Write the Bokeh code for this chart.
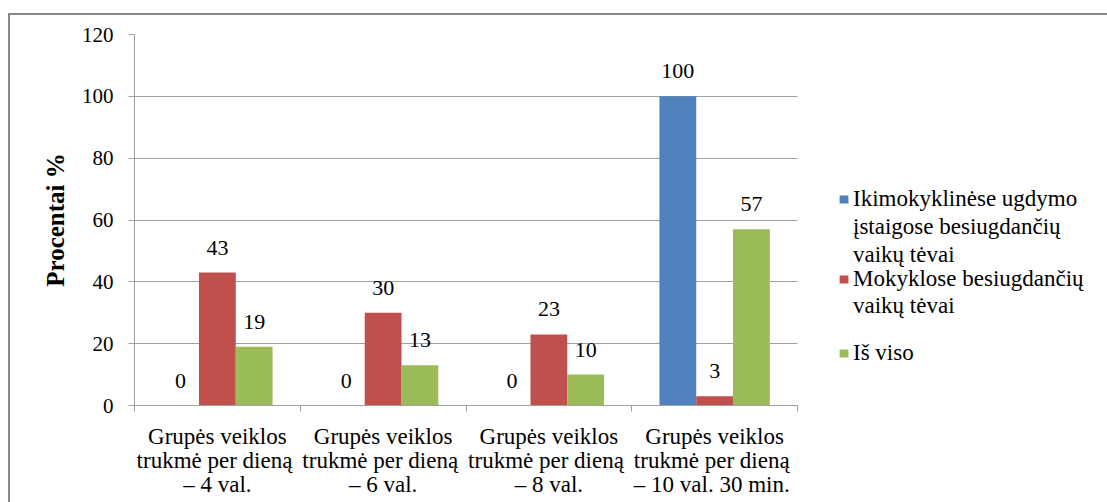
from bokeh.plotting import figure
from bokeh.models import (ColumnDataSource, FixedTicker, Legend, LegendItem,
                          LabelSet, Range1d)
from bokeh.transform import dodge
from bokeh.embed import file_html
from bokeh.resources import INLINE

# ---- data ----
categories = [
    "Grupės veiklos\ntrukmė  per dieną\n– 4 val.",
    "Grupės veiklos\ntrukmė  per dieną\n– 6 val.",
    "Grupės veiklos\ntrukmė  per dieną\n– 8 val.",
    "Grupės veiklos\ntrukmė  per dieną\n– 10 val.  30 min.",
]
series_names = [
    "Ikimokyklinėse ugdymo\nįstaigose besiugdančių\nvaikų tėvai",
    "Mokyklose besiugdančių\nvaikų tėvai",
    "Iš viso",
]
ikimokyklines = [0, 0, 0, 100]
mokyklose = [43, 30, 23, 3]
is_viso = [19, 13, 10, 57]
y_ticks = [0, 20, 40, 60, 80, 100, 120]
y_label = "Procentai %"

colors = ["#4F81BD", "#C0504D", "#9BBB59"]
FONT = "Liberation Serif"

n = len(categories)
centers = [i + 0.5 for i in range(n)]
bounds = [i for i in range(n + 1)]

src = ColumnDataSource(dict(
    x=centers,
    s0=ikimokyklines, s1=mokyklose, s2=is_viso,
    t0=[str(v) for v in ikimokyklines],
    t1=[str(v) for v in mokyklose],
    t2=[str(v) for v in is_viso],
))

# host placed at (8, 13) with a 2px border -> content origin at (10, 15)
OX, OY = 10, 15
W, H = 1099, 489
FL, FT, FR, FB = 134 - OX, 34 - OY, 797 - OX, 405 - OY
# frame extends to the right edge so the legend sits inside it;
# the categories occupy [0, n], which maps onto FL..FR
x_end = n * (W - FL) / (FR - FL)
p = figure(width=W, height=H, output_backend="svg", toolbar_location=None,
           x_range=Range1d(0, x_end), y_range=Range1d(0, 120),
           min_border_left=FL, min_border_right=0,
           min_border_top=FT, min_border_bottom=H - FB,
           margin=(13, 0, 0, 8))
p.styles = {"border-top": "2px solid #868686", "border-left": "2px solid #868686"}
p.outline_line_color = None
p.background_fill_color = "white"
p.border_fill_color = "white"

bw = 0.222
offsets = [-bw, 0.0, bw]
renderers = []
for k in range(3):
    r = p.vbar(x=dodge("x", offsets[k], range=p.x_range), top=f"s{k}", width=bw,
               source=src, fill_color=colors[k], line_color=None)
    renderers.append(r)
    lbl = LabelSet(x=dodge("x", offsets[k], range=p.x_range), y=f"s{k}", text=f"t{k}",
                   source=src, text_align="center", text_baseline="alphabetic",
                   y_offset=18, text_font=FONT, text_font_size="22px",
                   text_color="black")
    p.add_layout(lbl)

# invisible renderer used for the continuation lines of legend labels
blank = p.vbar(x=[], top=[], width=0.1, fill_alpha=0, line_alpha=0)

# axes
p.xaxis.bounds = (0, n)
p.xaxis.ticker = FixedTicker(ticks=centers, minor_ticks=bounds)
p.xaxis.major_label_overrides = {c: lab for c, lab in zip(centers, categories)}
p.xaxis.major_tick_out = 0
p.xaxis.major_tick_in = 0
p.xaxis.minor_tick_out = 6
p.xaxis.minor_tick_in = 0
p.xaxis.minor_tick_line_color = "#A0A0A0"
p.xaxis.axis_line_color = "#A0A0A0"
p.xaxis.major_label_text_font = FONT
p.xaxis.major_label_text_font_size = "23px"
p.xaxis.major_label_text_line_height = 0.96
p.xaxis.major_label_text_color = "black"
p.xaxis.major_label_standoff = 12

p.yaxis.ticker = FixedTicker(ticks=y_ticks)
p.yaxis.minor_tick_line_color = None
p.yaxis.major_tick_out = 6
p.yaxis.major_tick_in = 0
p.yaxis.major_tick_line_color = "#A0A0A0"
p.yaxis.axis_line_color = "#A0A0A0"
p.yaxis.major_label_text_font = FONT
p.yaxis.major_label_text_font_size = "21px"
p.yaxis.major_label_text_color = "black"
p.yaxis.major_label_standoff = 15
p.yaxis.axis_label = y_label
p.yaxis.axis_label_text_font = FONT
p.yaxis.axis_label_text_font_size = "25px"
p.yaxis.axis_label_text_font_style = "bold"
p.yaxis.axis_label_text_color = "black"
p.yaxis.axis_label_standoff = 10

p.xgrid.grid_line_color = None
p.ygrid.grid_line_color = "#A0A0A0"
p.ygrid.ticker = FixedTicker(ticks=y_ticks)
p.ygrid.cross_bounds = (0, n)

# legend: one block per series, the glyph beside the first line of its label
leg_x = 838 - 134
leg_y = [137, 86, 39]
leg_spacing = [2, 1, 1]
for k in range(3):
    lines = series_names[k].split("\n")
    items = [LegendItem(label=lines[0], renderers=[renderers[k]])]
    items += [LegendItem(label=ln, renderers=[blank]) for ln in lines[1:]]
    lg = Legend(items=items, location=(leg_x, leg_y[k]),
                glyph_width=11, glyph_height=10,
                label_text_font=FONT, label_text_font_size="23px",
                label_text_color="black", label_standoff=4,
                background_fill_alpha=0, border_line_color=None,
                padding=0, margin=0, spacing=leg_spacing[k])
    p.add_layout(lg)

open("out.html", "w").write(file_html(p, INLINE))
